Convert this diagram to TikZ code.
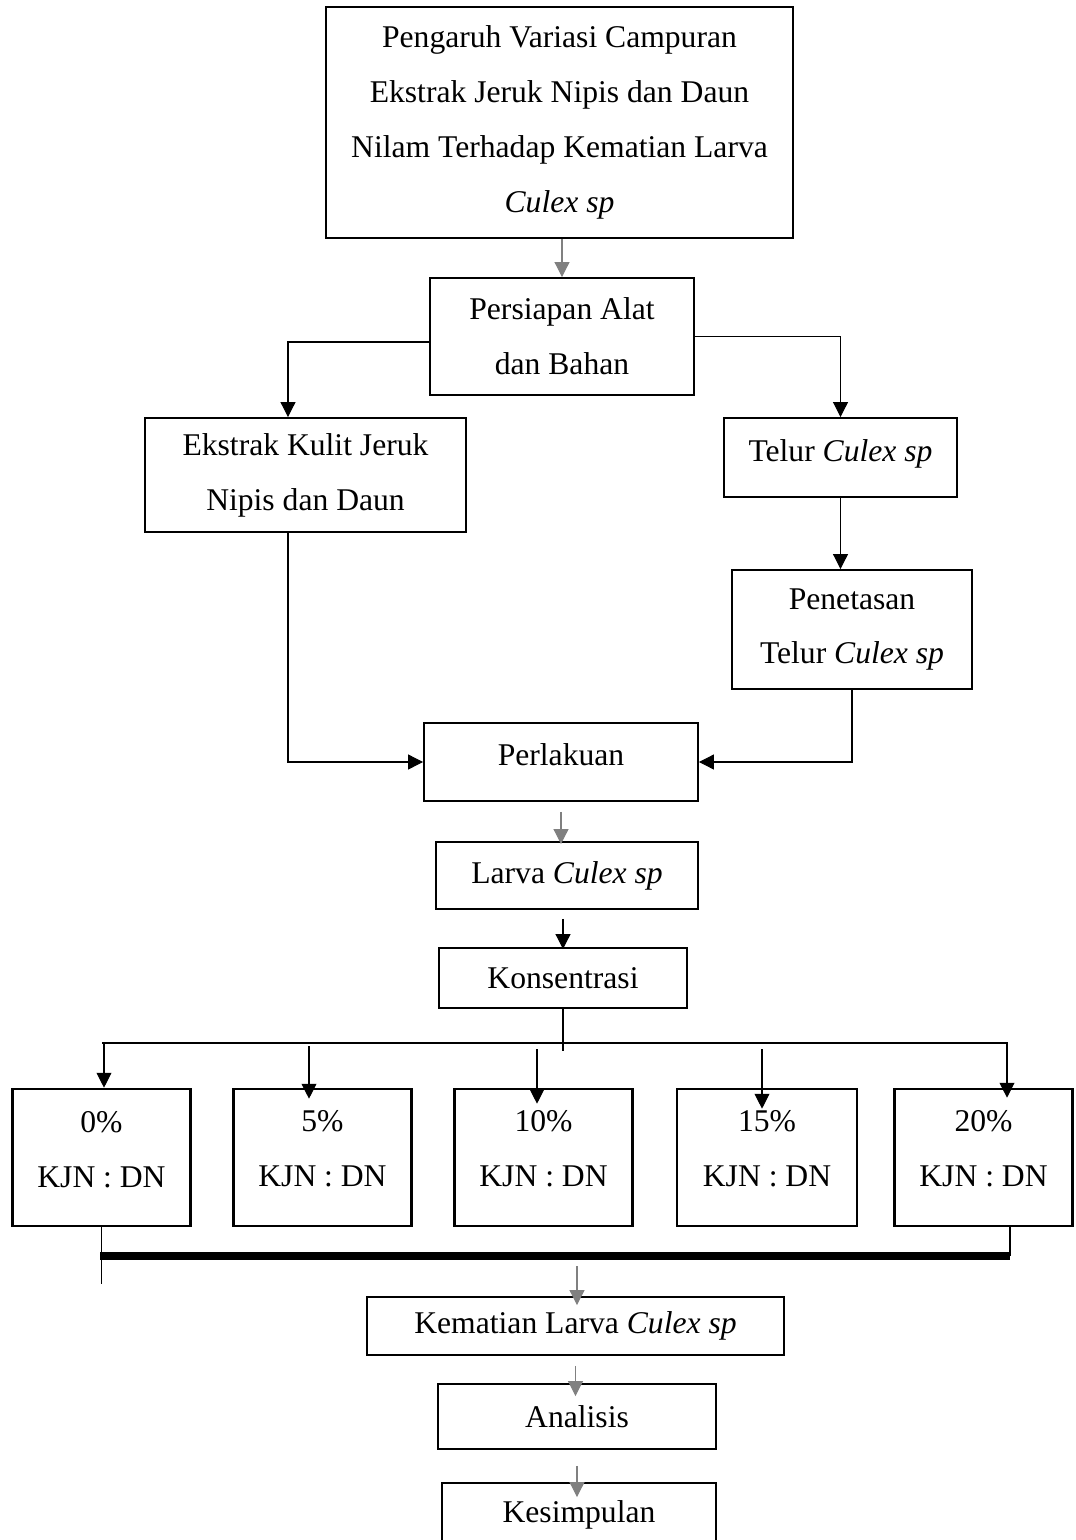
\documentclass[tikz,border=0pt]{standalone}
\usepackage{fontspec}
\setmainfont{Liberation Serif}
\usetikzlibrary{arrows.meta}

\tikzset{
  kotak/.style={draw, line width=1.1pt, align=center, inner sep=0pt},
  kadar/.style={kotak, line width=1.5pt, minimum width=3.56cm, minimum height=2.74cm, text depth=10pt},
  panah/.style={-{Triangle[length=8.5pt,width=8.5pt]}, line width=0.6pt},
}

\begin{document}
\begin{tikzpicture}[x=0.02cm, y=-0.02cm, font=\fontsize{18}{31.2}\selectfont]
\useasboundingbox (0,0) rectangle (1075,1540);

% --- Bagian atas ---
\node[kotak, minimum width=9.34cm, minimum height=4.62cm] (judul) at (559.5,122.5)
  {Pengaruh Variasi Campuran\\Ekstrak Jeruk Nipis dan Daun\\Nilam Terhadap Kematian Larva\\\textit{Culex sp}};
\node[kotak, minimum width=5.28cm, minimum height=2.34cm] (persiapan) at (562,336.5) {Persiapan Alat\\dan Bahan};
\node[kotak, minimum width=6.42cm, minimum height=2.28cm] (ekstrak) at (305.5,475) {Ekstrak Kulit Jeruk\\Nipis dan Daun};
\node[kotak, minimum width=4.66cm, minimum height=1.58cm, text depth=8.5pt] (telur) at (840.5,457.5) {Telur \textit{Culex sp}};
\node[kotak, minimum width=4.8cm, minimum height=2.38cm] (penetasan) at (852,629.5) {Penetasan\\Telur \textit{Culex sp}};
\node[kotak, minimum width=5.48cm, minimum height=1.56cm, text depth=8pt] (perlakuan) at (561,762) {Perlakuan};
\node[kotak, minimum width=5.24cm, minimum height=1.34cm] (larva) at (567,875.5) {Larva \textit{Culex sp}};
\node[kotak, minimum width=4.96cm, minimum height=1.2cm] (konsentrasi) at (563,978) {Konsentrasi};

\coordinate (cabangkiri) at (288,342);

\draw[panah, gray] (judul.south -| persiapan.north) -- (persiapan.north);
\draw[panah] (persiapan.west |- cabangkiri) -- (cabangkiri) -- (cabangkiri |- ekstrak.north);
\draw[panah] (persiapan.east) -| (telur.north);
\draw[panah] (telur.south) -- (telur.south |- penetasan.north);
\draw[panah] (ekstrak.south -| cabangkiri) |- (perlakuan.west);
\draw[panah] (penetasan.south) |- (perlakuan.east);
\draw[panah, gray, shorten >=-0.06cm] ([yshift=-0.2cm]perlakuan.south) -- (perlakuan.south |- larva.north);
\draw[panah, shorten >=-0.04cm] (konsentrasi.north |- larva.south) ++(0,9) -- (konsentrasi.north);

% --- Konsentrasi ---
\node[kadar, text depth=9pt] (k0) at (101.5,1157.5) {0\%\\KJN : DN};
\node[kadar] (k5) at (322.5,1157.5) {5\%\\KJN : DN};
\node[kadar] (k10) at (543.5,1157.5) {10\%\\KJN : DN};
\node[kadar, minimum width=3.6cm] (k15) at (767,1157.5) {15\%\\KJN : DN};
\node[kadar] (k20) at (983.5,1157.5) {20\%\\KJN : DN};

\coordinate (bagi) at (563,1051);
\coordinate (bagiki) at (102,1043);
\coordinate (bagika) at (1008,1043);
\draw[line width=0.6pt] (konsentrasi.south) -- (bagi);
\draw[line width=0.6pt] (bagiki) -- (bagika);

\foreach \n/\x/\ya/\d in {k0/104/1043/0, k5/309/1046/-0.22, k10/537/1049/-0.32, k15/762/1049/-0.42, k20/1007/1043/-0.2}{
  \coordinate (s\n) at (\x,\ya);
  \draw[panah, shorten >=\d cm] (s\n) -- (s\n |- \n.north);
}

% --- Gabungan ---
\coordinate (gabki) at (100,1256);
\coordinate (gabka) at (1010,1256);
\coordinate (gabtengah) at (577,1266);
\draw[line width=4.5pt] (gabki) -- (gabka);
\draw[line width=0.6pt] (k0.south) -- ++(0,57);
\draw[line width=0.6pt] (gabka |- k20.south) -- (gabka);

% --- Bagian bawah ---
\node[kotak, minimum width=8.34cm, minimum height=1.16cm] (kematian) at (575.5,1326) {Kematian Larva \textit{Culex sp}};
\node[kotak, minimum width=5.56cm, minimum height=1.3cm] (analisis) at (577,1416.5) {Analisis};
\node[kotak, minimum width=5.48cm, minimum height=1.28cm] (kesimpulan) at (579,1515) {Kesimpulan};

\draw[panah, gray, shorten >=-0.18cm] (gabtengah) -- (gabtengah |- kematian.north);
\draw[panah, gray, shorten >=-0.26cm] ([yshift=-0.2cm]kematian.south) -- (kematian.south |- analisis.north);
\draw[panah, gray, shorten >=-0.3cm] ([yshift=-0.32cm]analisis.south) -- (analisis.south |- kesimpulan.north);

\end{tikzpicture}
\end{document}
